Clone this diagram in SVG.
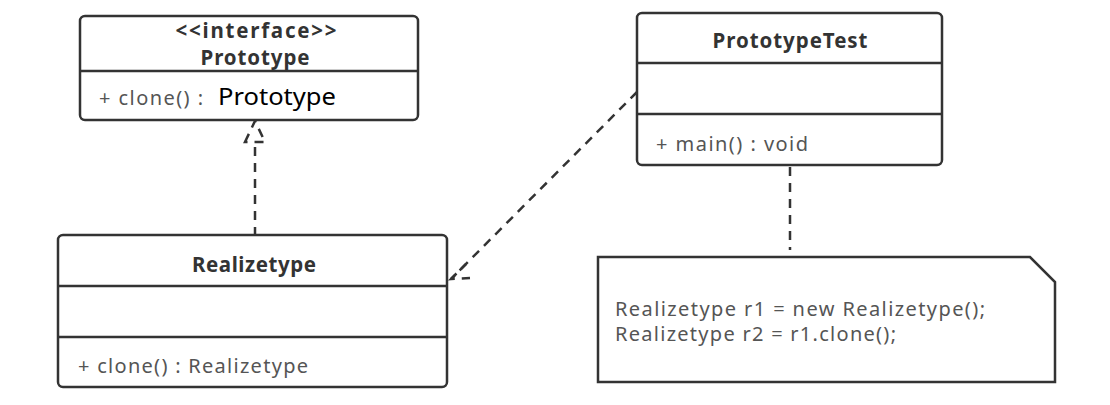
<svg xmlns="http://www.w3.org/2000/svg" width="1110" height="405" viewBox="0 0 1110 405">
<defs>
<style>
.box{fill:#fff;stroke:#333;stroke-width:2.5}
.div{stroke:#333;stroke-width:2.5}
.title{font-family:"Noto Sans",sans-serif;font-size:20.5px;font-weight:bold;fill:#333;text-anchor:middle}
.mem{font-family:"Noto Sans",sans-serif;font-size:20px;fill:#555}
.edge{fill:none;stroke:#333;stroke-width:2.5;stroke-dasharray:9 7}
</style>
</defs>
<rect width="1110" height="405" fill="#fff"/>
<g id="connectors">
<path class="edge" d="M255 236 V142"/>
<path class="edge" d="M245 142 L255 121 L265 142 Z" stroke-dasharray="6 5"/>
<path class="edge" d="M637 92 L451 279"/>
<path class="edge" d="M466 264 L451 279 L470 278" stroke-dasharray="7 5"/>
<path class="edge" d="M790 167 V250"/>
</g>
<g id="prototype">
<rect class="box" x="80" y="16" width="338" height="104" rx="5"/>
<line class="div" x1="80" y1="71" x2="418" y2="71"/>
<text class="title" x="256" y="38" textLength="161" lengthAdjust="spacing">&lt;&lt;interface&gt;&gt;</text>
<text class="title" x="255" y="65" textLength="109" lengthAdjust="spacing">Prototype</text>
<text class="mem" x="99" y="105" textLength="104" lengthAdjust="spacing">+ clone() :</text>
<text x="218" y="105" font-family="Noto Sans, sans-serif" font-size="23" fill="#000" textLength="118" lengthAdjust="spacingAndGlyphs">Prototype</text>
</g>
<g id="realizetype">
<rect class="box" x="58" y="235" width="389" height="152" rx="5"/>
<line class="div" x1="58" y1="286" x2="447" y2="286"/>
<line class="div" x1="58" y1="337" x2="447" y2="337"/>
<text class="title" x="254" y="272" textLength="124" lengthAdjust="spacing">Realizetype</text>
<text class="mem" x="78" y="373" textLength="230" lengthAdjust="spacing">+ clone() : Realizetype</text>
</g>
<g id="prototypetest">
<rect class="box" x="637" y="13" width="305" height="152" rx="5"/>
<line class="div" x1="637" y1="63" x2="942" y2="63"/>
<line class="div" x1="637" y1="114" x2="942" y2="114"/>
<text class="title" x="790" y="48" textLength="155" lengthAdjust="spacing">PrototypeTest</text>
<text class="mem" x="656" y="151" textLength="152" lengthAdjust="spacing">+ main() : void</text>
</g>
<g id="note">
<path class="box" d="M598 257 H1030 L1055 282 V382 H598 Z"/>
<text class="mem" x="615" y="316" textLength="370" lengthAdjust="spacing">Realizetype r1 = new Realizetype();</text>
<text class="mem" x="615" y="341" textLength="281" lengthAdjust="spacing">Realizetype r2 = r1.clone();</text>
</g>
</svg>
